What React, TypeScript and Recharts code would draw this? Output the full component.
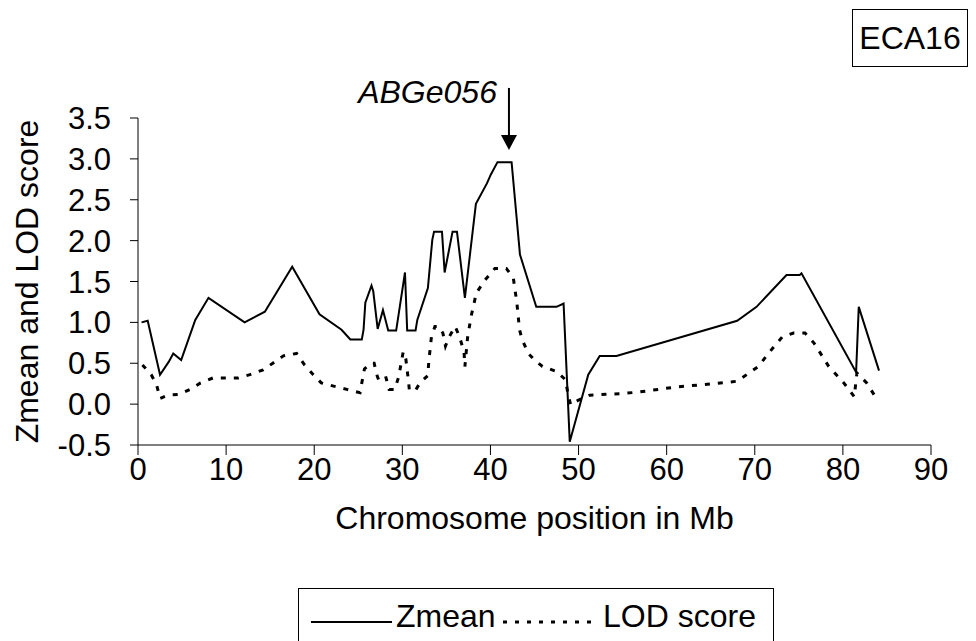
import { LineChart, Line, XAxis, YAxis, Legend, ReferenceDot } from 'recharts';

const FONT = '"Liberation Sans", Arial, sans-serif';

const xTicks = [0, 10, 20, 30, 40, 50, 60, 70, 80, 90];
const yTicks = [-0.5, 0, 0.5, 1, 1.5, 2, 2.5, 3, 3.5];

// Zmean (solid)
const zPos = [
  0.4, 1.1, 2.5, 3.5, 4.0, 4.9, 6.5, 8.0, 12.1, 14.4,
  17.5, 20.6, 23.1, 24.1, 25.4, 25.6, 25.8, 26.5, 26.7, 27.2,
  27.8, 28.4, 29.3, 30.3, 30.55, 31.5, 31.7, 32.9, 33.4, 33.6,
  34.5, 34.8, 35.7, 36.2, 37.1, 38.35, 39.6, 40.05, 40.8, 42.4,
  43.35, 45.2, 47.5, 48.3, 49.0, 51.1, 52.4, 54.3, 68.0, 70.2,
  73.6, 75.1, 75.3, 81.5, 81.8, 84.1,
];
const zVals = [
  1.0, 1.02, 0.36, 0.52, 0.62, 0.54, 1.03, 1.3, 1.0, 1.13,
  1.68, 1.1, 0.91, 0.79, 0.79, 0.91, 1.24, 1.45, 1.38, 0.92,
  1.15, 0.9, 0.9, 1.61, 0.9, 0.9, 1.03, 1.42, 2.01, 2.11,
  2.11, 1.61, 2.11, 2.11, 1.3, 2.45, 2.7, 2.81, 2.96, 2.96,
  1.83, 1.19, 1.19, 1.23, -0.46, 0.36, 0.59, 0.59, 1.02, 1.19,
  1.58, 1.58, 1.6, 0.39, 1.19, 0.41,
];

// LOD score (dotted)
const lodPos = [
  0.5, 1.5, 2.1, 2.5, 3.4, 4.7, 5.9, 7.1, 8.5, 11.4,
  12.7, 14.2, 15.3, 16.5, 18.0, 18.9, 19.9, 20.8, 22.2, 23.7,
  25.2, 25.4, 25.7, 26.4, 26.8, 27.1, 27.3, 28.1, 28.5, 29.15,
  29.6, 30.1, 30.4, 30.7, 30.8, 31.5, 32.0, 32.9, 33.0, 33.3,
  33.7, 34.1, 34.6, 34.9, 35.3, 36.0, 36.5, 37.0, 37.1, 37.4,
  37.8, 38.4, 39.4, 40.5, 41.8, 42.6, 43.0, 43.3, 43.6, 44.3,
  45.0, 45.9, 47.5, 48.5, 48.8, 49.1, 50.0, 51.3, 55.1, 57.0,
  61.1, 65.3, 68.0, 70.4, 71.7, 73.1, 74.4, 75.7, 76.7, 78.4,
  80.1, 81.3, 81.5, 81.6, 82.7, 83.8,
];
const lodVals = [
  0.48, 0.36, 0.24, 0.07, 0.11, 0.12, 0.18, 0.26, 0.32, 0.32,
  0.36, 0.42, 0.5, 0.59, 0.62, 0.48, 0.36, 0.26, 0.22, 0.18,
  0.14, 0.26, 0.43, 0.5, 0.5, 0.36, 0.3, 0.34, 0.18, 0.18,
  0.34, 0.64, 0.55, 0.28, 0.17, 0.17, 0.26, 0.35, 0.52, 0.82,
  0.95, 0.95, 0.87, 0.71, 0.82, 0.95, 0.82, 0.64, 0.46, 0.81,
  1.07, 1.36, 1.52, 1.66, 1.66, 1.54, 1.24, 0.91, 0.79, 0.62,
  0.54, 0.46, 0.4, 0.3, 0.13, -0.01, 0.05, 0.11, 0.13, 0.15,
  0.21, 0.25, 0.28, 0.46, 0.64, 0.82, 0.87, 0.87, 0.75, 0.46,
  0.26, 0.09, 0.3, 0.38, 0.26, 0.07,
];

const marker = { label: 'ABGe056', pos: 42.1, val: 3.11 };

const zData = zPos.map((x, i) => ({ x, y: zVals[i] }));
const lodData = lodPos.map((x, i) => ({ x, y: lodVals[i] }));

const Arrow = (props: any) => {
  const { cx, cy } = props;
  return (
    <g>
      <line x1={cx} y1={cy - 62} x2={cx} y2={cy - 12} stroke="#000" strokeWidth={2} />
      <polygon points={`${cx - 8},${cy - 15} ${cx + 8},${cy - 15} ${cx},${cy}`} fill="#000" />
      <text x={cx - 12} y={cy - 47} textAnchor="end" fontSize={32} fontStyle="italic" fontFamily={FONT} fill="#000">
        {marker.label}
      </text>
    </g>
  );
};

const LegendBox = () => (
  <svg width={476} height={53} style={{ display: 'block' }}>
    <rect x={0.5} y={0.5} width={475} height={80} fill="#fff" stroke="#000" strokeWidth={1} />
    <line x1={13} y1={34} x2={94} y2={34} stroke="#000" strokeWidth={2} />
    <text x={98} y={39} fontSize={32} fontFamily={FONT} fill="#000">Zmean</text>
    <line x1={205} y1={34} x2={296} y2={34} stroke="#000" strokeWidth={3} strokeDasharray="4 8" />
    <text x={305} y={39} fontSize={32} fontFamily={FONT} fill="#000">LOD score</text>
  </svg>
);

export default function App() {
  return (
    <div style={{ position: 'relative', width: 976, height: 641, overflow: 'hidden', background: '#fff' }}>
      <style>{'body{margin:0}'}</style>
      <div
        style={{
          position: 'absolute', left: 852, top: 9, width: 114, height: 56,
          border: '1px solid #000', fontFamily: FONT, fontSize: 32,
          display: 'flex', alignItems: 'center', justifyContent: 'center', zIndex: 2,
        }}
      >
        ECA16
      </div>
      <LineChart width={976} height={641} margin={{ top: 118, right: 45, left: 0, bottom: 136 }}>
        <XAxis
          type="number"
          dataKey="x"
          domain={[0, 90]}
          ticks={xTicks}
          interval={0}
          allowDataOverflow
          height={60}
          stroke="#000"
          tickSize={10}
          tickMargin={3}
          tick={{ fill: '#000', fontSize: 31, fontFamily: FONT }}
          label={({ viewBox }: any) => (
            <text
              x={viewBox.x + viewBox.width / 2}
              y={viewBox.y + 84}
              textAnchor="middle"
              fontSize={32}
              fontFamily={FONT}
              fill="#000"
            >
              Chromosome position in Mb
            </text>
          )}
        />
        <YAxis
          type="number"
          dataKey="y"
          domain={[-0.5, 3.5]}
          ticks={yTicks}
          interval={0}
          width={138}
          stroke="#000"
          tickSize={8}
          tickMargin={19}
          tickFormatter={(v: number) => v.toFixed(1)}
          tick={{ fill: '#000', fontSize: 31, fontFamily: FONT }}
          label={({ viewBox }: any) => {
            const cy = viewBox.y + viewBox.height / 2;
            return (
              <text
                x={38}
                y={cy}
                transform={`rotate(-90 38 ${cy})`}
                textAnchor="middle"
                fontSize={32}
                fontFamily={FONT}
                fill="#000"
              >
                Zmean and LOD score
              </text>
            );
          }}
        />
        <Legend
          layout="horizontal"
          verticalAlign="middle"
          align="center"
          wrapperStyle={{ position: 'absolute', left: 298, top: 588, width: 476, height: 53 }}
          content={() => <LegendBox />}
        />
        <Line
          data={lodData}
          dataKey="y"
          type="linear"
          stroke="#000"
          strokeWidth={3}
          strokeDasharray="5 8"
          dot={false}
          isAnimationActive={false}
          name="LOD score"
        />
        <Line
          data={zData}
          dataKey="y"
          type="linear"
          stroke="#000"
          strokeWidth={2}
          dot={false}
          isAnimationActive={false}
          name="Zmean"
        />
        <ReferenceDot x={marker.pos} y={marker.val} ifOverflow="visible" shape={Arrow} />
      </LineChart>
    </div>
  );
}
